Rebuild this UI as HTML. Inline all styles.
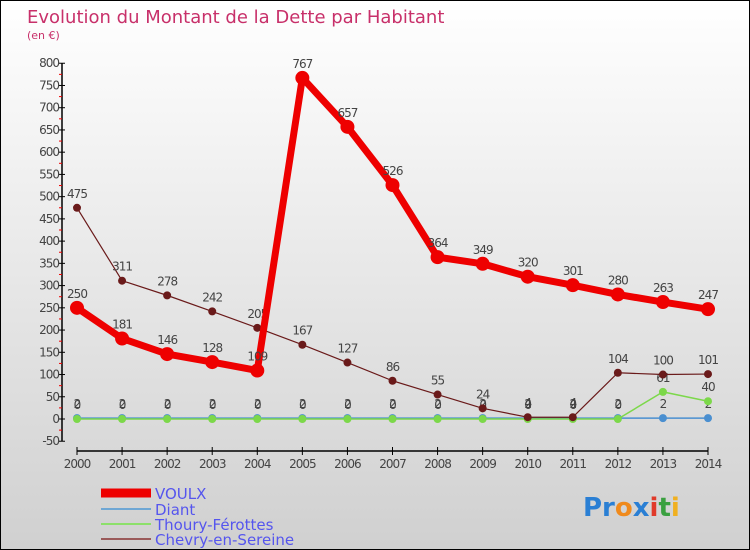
<!DOCTYPE html>
<html><head><meta charset="utf-8"><style>
body{margin:0}
#c{width:748px;height:548px;border:1px solid #000;background:linear-gradient(#fff,#d0d0d0);position:relative;font-family:"DejaVu Sans","Liberation Sans",sans-serif;overflow:hidden}
</style></head><body>
<div id="c">
<svg id="s" width="748" height="548" style="position:absolute;left:0;top:0" font-family="DejaVu Sans, Liberation Sans, sans-serif">
<text x="26" y="22" font-size="18" fill="#c8306a">Evolution du Montant de la Dette par Habitant</text>
<text x="26" y="38" font-size="11" fill="#c8306a">(en €)</text>
<g id="ax"></g><g id="ser"></g>
<g font-size="15" fill="#5555ee">
<line x1="100" y1="492" x2="150" y2="492" stroke="#e00" stroke-width="9"/>
<text x="154" y="498">VOULX</text>
<line x1="100" y1="508" x2="150" y2="508" stroke="#6fa7d4" stroke-width="2"/>
<text x="154" y="514">Diant</text>
<line x1="100" y1="523" x2="150" y2="523" stroke="#8ce06a" stroke-width="2"/>
<text x="154" y="529">Thoury-Férottes</text>
<line x1="100" y1="538" x2="150" y2="538" stroke="#9a5a5a" stroke-width="2"/>
<text x="154" y="544">Chevry-en-Sereine</text>
</g>
<text x="582" y="515" font-size="26" font-weight="bold"><tspan fill="#2a7fd4">Pr</tspan><tspan fill="#f08a1c">o</tspan><tspan fill="#2a7fd4">x</tspan><tspan fill="#e03a2a">i</tspan><tspan fill="#3aa040">t</tspan><tspan fill="#f0b020">i</tspan></text>
</svg></div>
<script>
const years=[2000,2001,2002,2003,2004,2005,2006,2007,2008,2009,2010,2011,2012,2013,2014];
const voulx=[250,181,146,128,109,767,657,526,364,349,320,301,280,263,247];
const diant=[2,2,2,2,2,2,2,2,2,2,2,2,2,2,2];
const thoury=[0,0,0,0,0,0,0,0,0,0,0,0,0,61,40];
const chevry=[475,311,278,242,205,167,127,86,55,24,4,4,104,100,101];
const yTicks=[-50,0,50,100,150,200,250,300,350,400,450,500,550,600,650,700,750,800];
const NS="http://www.w3.org/2000/svg";
const X=i=>76+i*(707-76)/(years.length-1);
const Y=v=>418-v*0.4447;
function mk(p,t,a){const e=document.createElementNS(NS,t);for(const k in a)e.setAttribute(k,a[k]);p.appendChild(e);return e;}
const ax=document.getElementById('ax'),ser=document.getElementById('ser');
const ya=mk(ax,'line',{x1:61,y1:Y(800),x2:61,y2:Y(-50),stroke:'#000','stroke-width':1.5});


yTicks.forEach(v=>{
 mk(ax,'line',{x1:58,y1:Y(v),x2:64,y2:Y(v),stroke:'#000'});
 if(v<800) mk(ax,'line',{x1:58,y1:Y(v+25),x2:61,y2:Y(v+25),stroke:'#e00'});
 const t=mk(ax,'text',{x:58,y:Y(v)+4,'font-size':12,'text-anchor':'end',fill:'#444','letter-spacing':'-1'});
 t.textContent=v;
 
 
});
const xa=mk(ax,'line',{x1:X(0),y1:450,x2:X(14),y2:450,stroke:'#000','stroke-width':1.5});


years.forEach((y,i)=>{
 mk(ax,'line',{x1:X(i),y1:446,x2:X(i),y2:454,stroke:'#000'});
 const t=mk(ax,'text',{x:X(i),y:467,'font-size':12,'text-anchor':'middle',fill:'#444','letter-spacing':'-1'});
 t.textContent=y;
 
 
});
function series(name,vals,col,w,r){
 const g=mk(ser,'g',{});
 
 
 let d='';vals.forEach((v,i)=>{d+=(i===0?'M':'L')+X(i)+' '+Y(v)+' ';});
 mk(g,'path',{d:d,fill:'none',stroke:col,'stroke-width':w,'stroke-linejoin':'round'});
 vals.forEach((v,i)=>{
  const c=mk(g,'circle',{cx:X(i),cy:Y(v),r:r,fill:col});
  
  
  const t=mk(g,'text',{x:X(i),y:Y(v)-10,'font-size':12,'text-anchor':'middle',fill:'#444','letter-spacing':'-1'});
  t.textContent=v;
  
  
 });
}
series('diant',diant,'#4a8fd0',1.5,4);
series('thoury',thoury,'#7cd84a',1.5,4);
series('chevry',chevry,'#6a1a1a',1.2,4);
series('voulx',voulx,'#ee0000',7,7);
</script>
</body></html>
